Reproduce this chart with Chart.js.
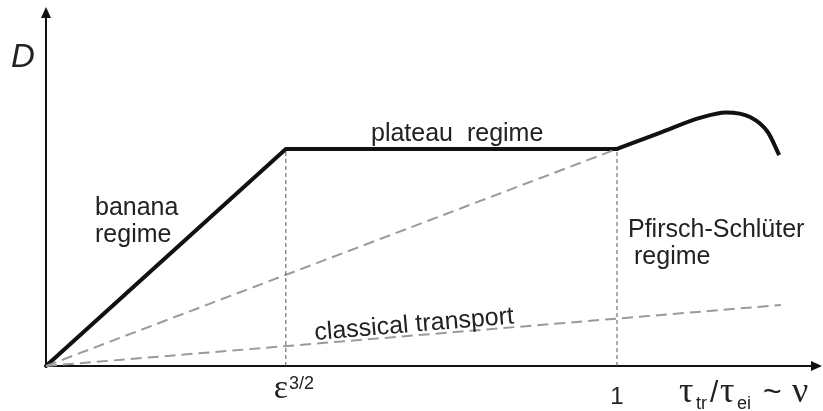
<!DOCTYPE html>
<html>
<head>
<meta charset="utf-8">
<script src="https://cdn.jsdelivr.net/npm/chart.js@4.4.1/dist/chart.umd.min.js"></script>
<style>
  html, body { margin: 0; padding: 0; background: #ffffff; }
  #wrap { width: 823px; height: 411px; position: relative; }
</style>
</head>
<body>
<div id="wrap"><canvas id="c" width="823" height="411"></canvas></div>
<script>
// ---- data (x: ν in units where the "1" tick = 1; y: D in units of the plateau level) ----
const mainX = [0, 0.42, 1];
const mainY = [0, 1, 1];
const psX = [1, 1.075, 1.145, 1.191, 1.233, 1.264, 1.284];
const psY = [1, 1.074, 1.143, 1.168, 1.147, 1.078, 0.972];
const neoX = [0, 1];
const neoY = [0, 1];
const classicalX = [0, 1.287];
const classicalY = [0, 0.281];
const boundaryX = [0.42, 1];
const boundaryY = [0, 1];
const tickValues = [0.42, 1];
const tickLabels = ['\u03B5', '1'];
const tickSupers = ['3/2', ''];
const axisMaxX = 1.359;
const axisMaxY = 1.654;

function pts(xs, ys) { return xs.map((x, i) => ({ x: x, y: ys[i] })); }

const boundaryDatasets = boundaryX.map(bx => ({
  data: pts([bx, bx], boundaryY),
  borderColor: '#555555', borderWidth: 1, borderDash: [4, 3],
  pointRadius: 0, showLine: true, fill: false, clip: false, tension: 0
}));

const SANS = '"Liberation Sans", Arial, Helvetica, sans-serif';
const SERIF = '"Liberation Serif", "Times New Roman", serif';

const decor = {
  id: 'decor',
  beforeDatasetsDraw(chart) {
    const ctx = chart.ctx;
    const xs = chart.scales.x, ys = chart.scales.y;
    const x0 = xs.getPixelForValue(0), y0 = ys.getPixelForValue(0);
    const xEnd = xs.getPixelForValue(axisMaxX), yEnd = ys.getPixelForValue(axisMaxY);
    ctx.save();
    ctx.strokeStyle = '#111'; ctx.fillStyle = '#111'; ctx.lineWidth = 2;
    ctx.beginPath();
    ctx.moveTo(x0, y0 + 1); ctx.lineTo(x0, yEnd + 8);
    ctx.moveTo(x0 - 1, y0); ctx.lineTo(xEnd - 8, y0);
    ctx.stroke();
    // arrowheads
    ctx.beginPath();
    ctx.moveTo(x0, yEnd); ctx.lineTo(x0 - 5, yEnd + 11); ctx.lineTo(x0 + 5, yEnd + 11); ctx.closePath();
    ctx.fill();
    ctx.beginPath();
    ctx.moveTo(xEnd, y0); ctx.lineTo(xEnd - 11, y0 - 5); ctx.lineTo(xEnd - 11, y0 + 5); ctx.closePath();
    ctx.fill();
    ctx.restore();
  },
  afterDatasetsDraw(chart) {
    const ctx = chart.ctx;
    const xs = chart.scales.x;
    ctx.save();
    ctx.fillStyle = '#222';
    ctx.textBaseline = 'alphabetic';
    // y-axis label
    ctx.font = 'italic 33px ' + SANS;
    ctx.textAlign = 'left';
    ctx.fillText('D', 11, 67);
    // regime labels
    ctx.font = '25px ' + SANS;
    ctx.fillText('banana', 95, 215);
    ctx.fillText('regime', 95, 242);
    ctx.fillText('plateau  regime', 371, 141);
    ctx.fillText('Pfirsch-Schl\u00FCter', 628, 237);
    ctx.fillText('regime', 634, 264);
    // classical transport, along its line
    ctx.save();
    ctx.translate(315, 340);
    ctx.rotate(-Math.atan(0.083));
    ctx.font = '25px ' + SANS;
    ctx.fillText('classical transport', 0, 0);
    ctx.restore();
    // x ticks
    tickValues.forEach((v, i) => {
      const px = xs.getPixelForValue(v);
      if (tickSupers[i]) {
        ctx.font = '34px ' + SERIF;
        const w = ctx.measureText(tickLabels[i]).width;
        ctx.textAlign = 'left';
        ctx.fillText(tickLabels[i], px - 12, 398);
        ctx.font = '18px ' + SANS;
        ctx.fillText(tickSupers[i], px - 12 + w + 1, 389);
      } else {
        ctx.font = '24px ' + SANS;
        ctx.textAlign = 'center';
        ctx.fillText(tickLabels[i], px, 404);
      }
    });
    // x-axis label  τ_tr/τ_ei ~ ν
    ctx.textAlign = 'left';
    const parts = [
      ['\u03C4', '36px ' + SERIF, 679, 402],
      ['tr', '18px ' + SANS, 696, 409],
      ['/', '30px ' + SANS, 710, 402],
      ['\u03C4', '36px ' + SERIF, 720, 402],
      ['ei', '18px ' + SANS, 737, 409],
      ['~', '32px ' + SANS, 763, 402],
      ['\u03BD', '36px ' + SERIF, 792, 402]
    ];
    parts.forEach(p => {
      ctx.font = p[1];
      ctx.fillText(p[0], p[2], p[3]);
    });
    ctx.restore();
  }
};

new Chart(document.getElementById('c'), {
  type: 'scatter',
  data: {
    datasets: [
      ...boundaryDatasets,
      { data: pts(neoX, neoY), borderColor: '#9a9a9a', borderWidth: 2, borderDash: [11, 6],
        pointRadius: 0, showLine: true, fill: false, clip: false, tension: 0 },
      { data: pts(classicalX, classicalY), borderColor: '#9a9a9a', borderWidth: 2, borderDash: [11, 6],
        pointRadius: 0, showLine: true, fill: false, clip: false, tension: 0 },
      { data: pts(mainX, mainY), borderColor: '#111111', borderWidth: 4,
        pointRadius: 0, showLine: true, fill: false, clip: false, tension: 0,
        borderJoinStyle: 'round', borderCapStyle: 'round' },
      { data: pts(psX, psY), borderColor: '#111111', borderWidth: 4,
        pointRadius: 0, showLine: true, fill: false, clip: false,
        cubicInterpolationMode: 'monotone', borderCapStyle: 'butt' }
    ]
  },
  options: {
    responsive: false,
    animation: false,
    layout: { padding: { left: 46, right: 1, top: 7, bottom: 45 } },
    plugins: { legend: { display: false }, tooltip: { enabled: false } },
    scales: {
      x: { type: 'linear', min: 0, max: axisMaxX, display: false },
      y: { type: 'linear', min: 0, max: axisMaxY, display: false }
    }
  },
  plugins: [decor]
});
</script>
</body>
</html>
